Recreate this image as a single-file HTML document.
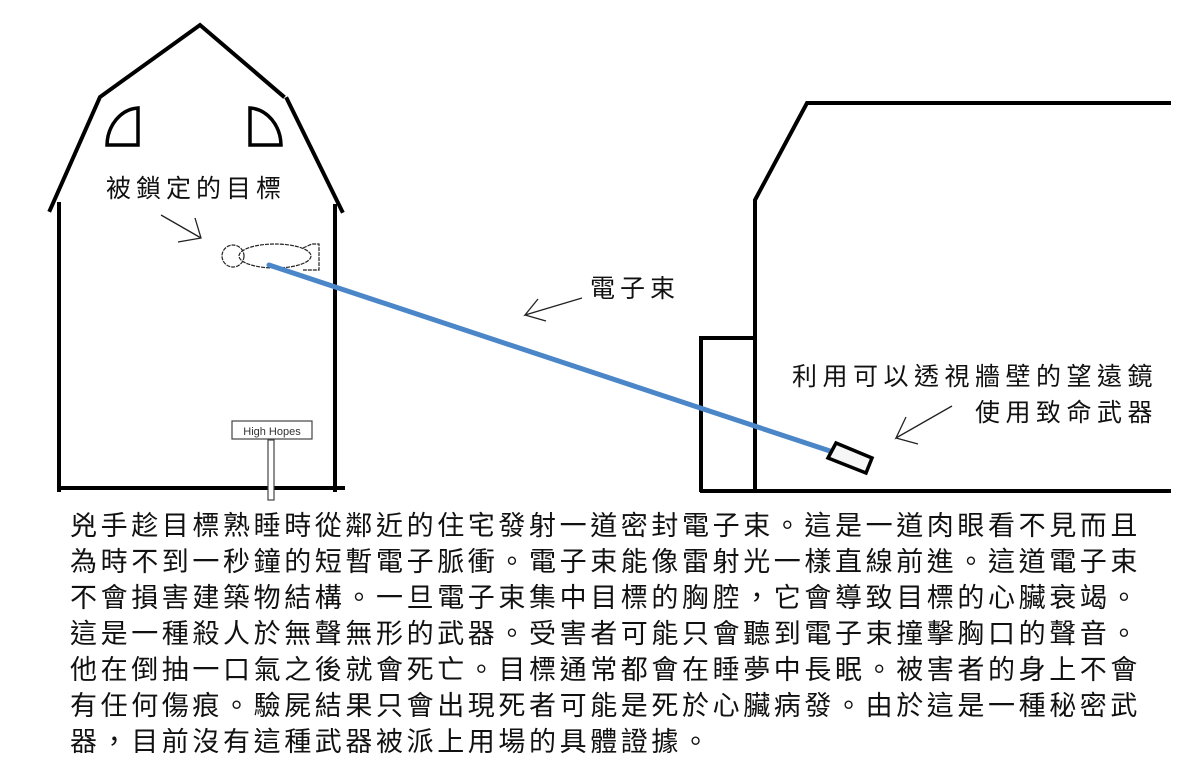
<!DOCTYPE html>
<html><head><meta charset="utf-8"><style>
html,body{margin:0;padding:0;background:#fff;}
svg{display:block}
text{font-family:"Liberation Sans","Noto Sans CJK TC",sans-serif;fill:#111;}
.b{font-size:27px;letter-spacing:3.6px;}
.l{font-size:25px;letter-spacing:5px;}
</style></head><body>
<svg width="1200" height="779" viewBox="0 0 1200 779" xmlns="http://www.w3.org/2000/svg">
<g stroke="#000" stroke-width="4" fill="none" stroke-linecap="square">
<polyline points="50,210 100,97 200,25 283,96"/>
<polyline points="287,99 342,211"/>
<line x1="59" y1="204" x2="59" y2="490"/>
<line x1="335" y1="206" x2="335" y2="490"/>
<line x1="59" y1="488" x2="343" y2="488"/>
<path d="M107,145 A33,38 0 0 1 138,108 L138,145 Z" stroke-width="3.5"/>
<path d="M250,108 A33,38 0 0 1 281,145 L250,145 Z" stroke-width="3.5"/>
<polyline points="755,490 755,200 807,103 1169,103"/>
<polyline points="701,490 701,338 755,338"/>
<line x1="702" y1="491" x2="1169" y2="491"/>
</g>
<rect x="232" y="421" width="80" height="18" fill="#fff" stroke="#444" stroke-width="1.2"/>
<text x="272" y="435" text-anchor="middle" style="font-size:11px;fill:#333;font-family:'Liberation Sans',sans-serif">High Hopes</text>
<rect x="268" y="440" width="6" height="60" fill="#fff" stroke="#444" stroke-width="1.2"/>
<g stroke="#222" stroke-width="1.2" fill="none" stroke-dasharray="4,1">
<circle cx="233" cy="256" r="11"/>
<ellipse cx="275" cy="256" rx="36" ry="12"/>
<path d="M303,248 L312,244 L319,244 L319,270 L303,270"/>
</g>
<line x1="269" y1="265" x2="830" y2="451" stroke="#4a86c8" stroke-width="5" stroke-linecap="round"/>
<polygon points="836,443 872,458 866,473 828,458" fill="#f6f6f6" stroke="#000" stroke-width="3.5"/>
<g stroke="#222" stroke-width="1.3" fill="none">
<polyline points="161,215 201,238"/>
<polyline points="195,218 201,238 178,242"/>
<polyline points="582,298 525,315 538,299"/>
<polyline points="525,315 546,321"/>
<polyline points="952,406 896,438 906,417"/>
<polyline points="896,438 918,444"/>
</g>
<text class="l" x="106" y="197">被鎖定的目標</text>
<text class="l" x="590" y="297">電子束</text>
<text class="l" x="1158" y="385" text-anchor="end" style="letter-spacing:5.5px">利用可以透視牆壁的望遠鏡</text>
<text class="l" x="1158" y="421" text-anchor="end" style="letter-spacing:5.5px">使用致命武器</text>
<g class="b">
<text x="70" y="535">兇手趁目標熟睡時從鄰近的住宅發射一道密封電子束。這是一道肉眼看不見而且</text>
<text x="70" y="571">為時不到一秒鐘的短暫電子脈衝。電子束能像雷射光一樣直線前進。這道電子束</text>
<text x="70" y="607">不會損害建築物結構。一旦電子束集中目標的胸腔，它會導致目標的心臟衰竭。</text>
<text x="70" y="643">這是一種殺人於無聲無形的武器。受害者可能只會聽到電子束撞擊胸口的聲音。</text>
<text x="70" y="679">他在倒抽一口氣之後就會死亡。目標通常都會在睡夢中長眠。被害者的身上不會</text>
<text x="70" y="715">有任何傷痕。驗屍結果只會出現死者可能是死於心臟病發。由於這是一種秘密武</text>
<text x="70" y="751">器，目前沒有這種武器被派上用場的具體證據。</text>
</g>
</svg>
</body></html>
